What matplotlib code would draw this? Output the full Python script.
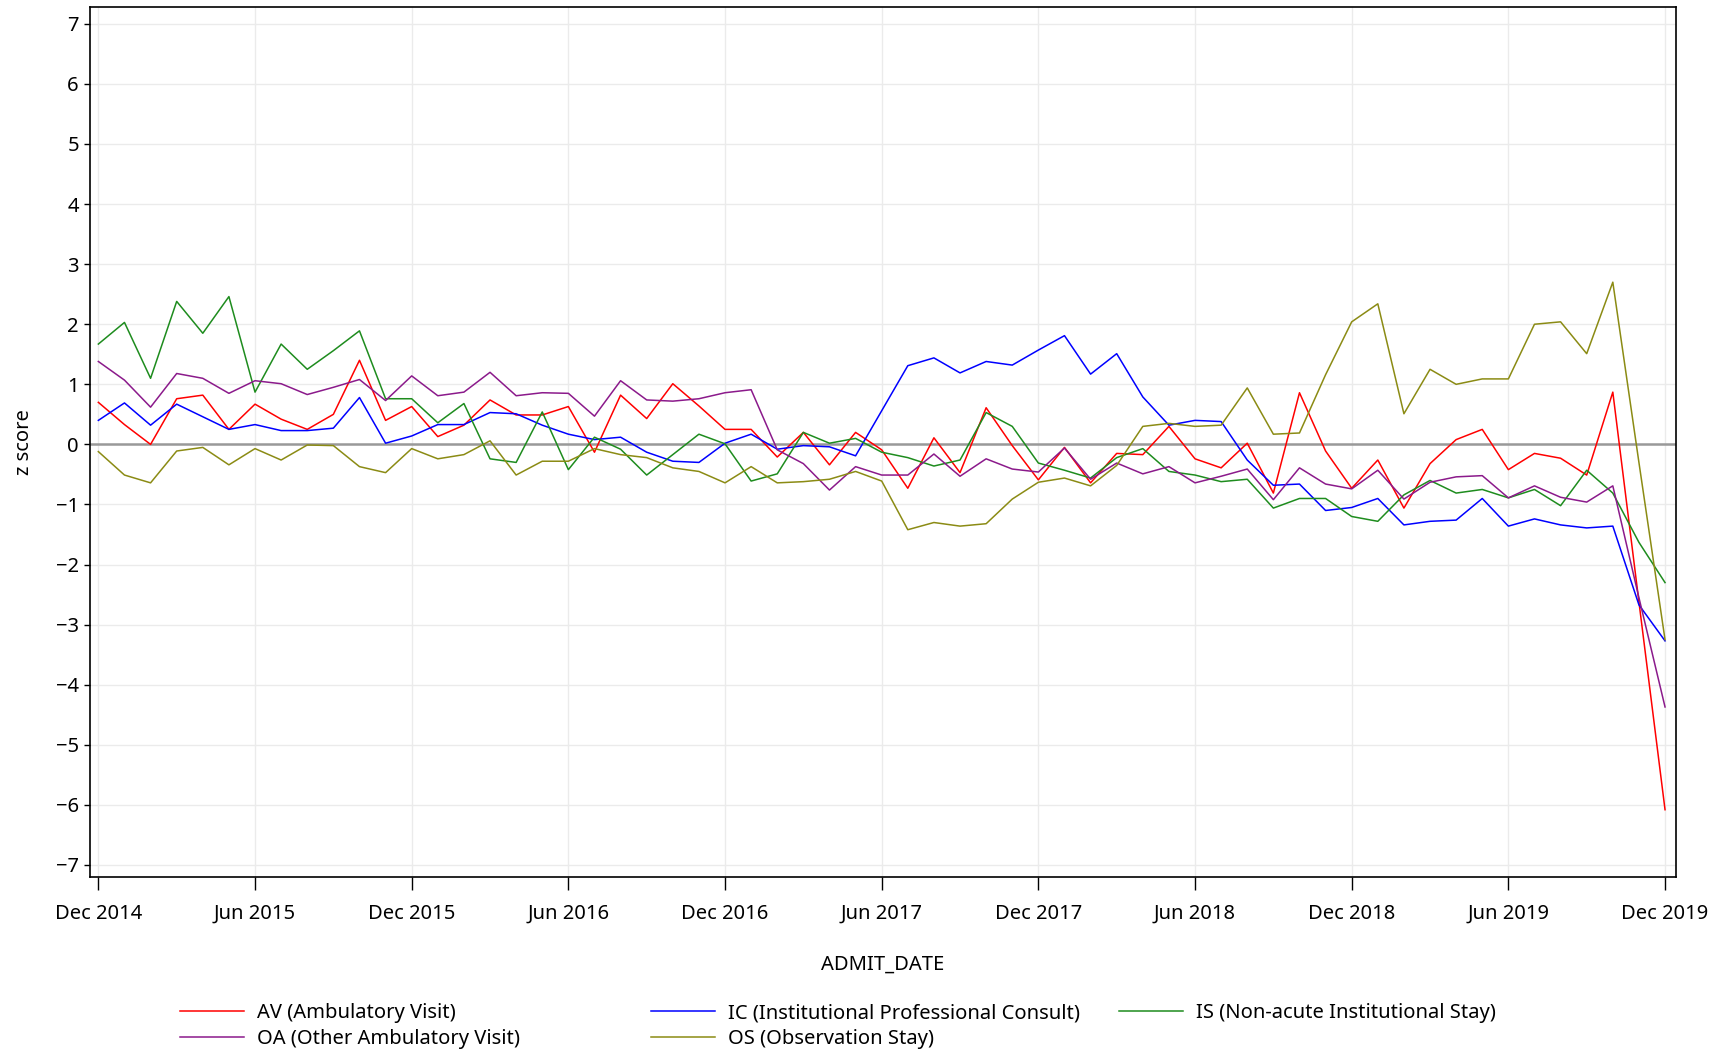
import numpy as np
import matplotlib
matplotlib.use("Agg")
import matplotlib.pyplot as plt

# monthly z scores, Dec 2014 .. Dec 2019 (61 months)
av = [0.70, 0.33, 0.00, 0.76, 0.82, 0.25, 0.67, 0.42, 0.25, 0.50, 1.40, 0.40, 0.63,
      0.13, 0.32, 0.74, 0.49, 0.49, 0.63, -0.13, 0.82, 0.43, 1.01, 0.64, 0.25,
      0.25, -0.21, 0.20, -0.34, 0.20, -0.09, -0.73, 0.11, -0.47, 0.61, -0.02, -0.59,
      -0.05, -0.64, -0.15, -0.17, 0.30, -0.24, -0.39, 0.02, -0.81, 0.86, -0.11, -0.73,
      -0.26, -1.06, -0.32, 0.08, 0.25, -0.42, -0.15, -0.23, -0.51, 0.87, -2.62, -6.08]
ic = [0.40, 0.69, 0.32, 0.67, 0.46, 0.25, 0.33, 0.23, 0.23, 0.27, 0.78, 0.02, 0.14,
      0.33, 0.33, 0.53, 0.51, 0.32, 0.17, 0.08, 0.12, -0.13, -0.28, -0.30, 0.02,
      0.17, -0.08, -0.02, -0.04, -0.19, 0.56, 1.31, 1.44, 1.19, 1.38, 1.32, 1.57,
      1.81, 1.17, 1.51, 0.79, 0.32, 0.40, 0.38, -0.26, -0.68, -0.66, -1.10, -1.05,
      -0.90, -1.34, -1.28, -1.26, -0.90, -1.36, -1.24, -1.34, -1.39, -1.36, -2.67, -3.27]
is_ = [1.67, 2.03, 1.10, 2.38, 1.85, 2.46, 0.87, 1.67, 1.25, 1.56, 1.89, 0.76, 0.76,
       0.36, 0.68, -0.24, -0.30, 0.54, -0.42, 0.12, -0.08, -0.51, -0.17, 0.17, 0.01,
       -0.61, -0.49, 0.20, 0.02, 0.10, -0.13, -0.22, -0.36, -0.26, 0.53, 0.30, -0.31,
       -0.43, -0.56, -0.22, -0.07, -0.45, -0.51, -0.62, -0.58, -1.06, -0.90, -0.90, -1.20,
       -1.28, -0.84, -0.60, -0.81, -0.75, -0.89, -0.75, -1.02, -0.43, -0.81, -1.63, -2.30]
oa = [1.38, 1.07, 0.62, 1.18, 1.10, 0.85, 1.06, 1.01, 0.83, 0.95, 1.08, 0.73, 1.14,
      0.81, 0.87, 1.20, 0.81, 0.86, 0.85, 0.47, 1.06, 0.74, 0.72, 0.76, 0.86,
      0.91, -0.09, -0.32, -0.76, -0.37, -0.51, -0.51, -0.16, -0.53, -0.24, -0.41, -0.46,
      -0.06, -0.58, -0.31, -0.49, -0.37, -0.64, -0.53, -0.41, -0.92, -0.39, -0.66, -0.74,
      -0.43, -0.91, -0.63, -0.54, -0.52, -0.89, -0.69, -0.88, -0.96, -0.69, -2.55, -4.37]
os_ = [-0.12, -0.51, -0.64, -0.11, -0.05, -0.34, -0.07, -0.26, -0.01, -0.02, -0.37, -0.47, -0.07,
       -0.24, -0.17, 0.06, -0.51, -0.28, -0.28, -0.07, -0.17, -0.22, -0.39, -0.45, -0.64,
       -0.37, -0.64, -0.62, -0.58, -0.45, -0.61, -1.42, -1.30, -1.36, -1.32, -0.91, -0.63,
       -0.56, -0.69, -0.35, 0.30, 0.35, 0.30, 0.32, 0.94, 0.17, 0.19, 1.16, 2.04,
       2.34, 0.51, 1.25, 1.00, 1.09, 1.09, 2.00, 2.04, 1.51, 2.70, -0.30, -3.25]

tick_labels = ["Dec 2014", "Jun 2015", "Dec 2015", "Jun 2016", "Dec 2016", "Jun 2017",
               "Dec 2017", "Jun 2018", "Dec 2018", "Jun 2019", "Dec 2019"]

months = np.arange(len(av))

plt.rcParams['font.family'] = ['Noto Sans', 'DejaVu Sans']
fs = 14.5
fig = plt.figure(figsize=(17.23, 10.5), dpi=100)
ax = fig.add_axes([90 / 1723, 1 - 877 / 1050, (1676 - 90) / 1723, (877 - 7) / 1050])

ax.axhline(0, color='#999999', lw=1.8, zorder=1)
l_av, = ax.plot(months, av, color='#ff0000', lw=1.1, label='AV (Ambulatory Visit)')
l_ic, = ax.plot(months, ic, color='#0000ff', lw=1.1, label='IC (Institutional Professional Consult)')
l_is, = ax.plot(months, is_, color='#1e8c1e', lw=1.1, label='IS (Non-acute Institutional Stay)')
l_oa, = ax.plot(months, oa, color='#8b1a8b', lw=1.1, label='OA (Other Ambulatory Visit)')
l_os, = ax.plot(months, os_, color='#8b8b14', lw=1.1, label='OS (Observation Stay)')

ax.set_xlim(-0.32, 60.42)
ax.set_ylim(-7.2, 7.28)
ax.set_xticks(np.arange(0, 61, 6))
ax.set_xticklabels(tick_labels)
ax.set_yticks(np.arange(-7, 8, 1))
ax.grid(True, color='#ebebeb', lw=1)
ax.set_axisbelow(True)
ax.tick_params(axis='x', length=9, width=1, pad=10.5, labelsize=fs)
ax.tick_params(axis='y', length=4, width=1, pad=4, labelsize=fs)
for s in ax.spines.values():
    s.set_linewidth(1.2)

ax.set_xlabel('ADMIT_DATE', fontsize=fs, labelpad=22)
ax.set_ylabel('z score', fontsize=fs)
ax.yaxis.set_label_coords(-0.035, 0.5)

# legend, three fixed columns
cols = [([l_av, l_oa], 180), ([l_ic, l_os], 651), ([l_is], 1119)]
for handles, x0 in cols:
    fig.legend(handles=handles, loc='upper left', bbox_to_anchor=(x0 / 1723, 1 - 1003 / 1050),
               frameon=False, fontsize=fs, handlelength=3.2, handletextpad=0.6,
               labelspacing=0.3, borderaxespad=0, borderpad=0)

fig.savefig('out.png', dpi=100)
